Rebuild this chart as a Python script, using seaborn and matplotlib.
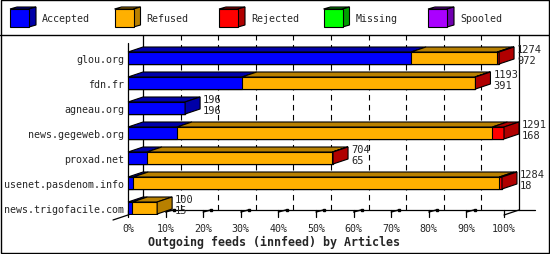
import numpy as np
import pandas as pd
import matplotlib
matplotlib.use("Agg")
import matplotlib.pyplot as plt
import seaborn as sns
from matplotlib.patches import Polygon, Rectangle

# ---------------- data ----------------
hosts = ["glou.org", "fdn.fr", "agneau.org", "news.gegeweb.org",
         "proxad.net", "usenet.pasdenom.info", "news.trigofacile.com"]
offered = [1274, 1193, 196, 1291, 704, 1284, 100]
accepted = [972, 391, 196, 168, 65, 18, 15]
refused = [296, 800, 0, 1083, 637, 1257, 85]
rejected = [6, 2, 0, 40, 2, 9, 0]
missing = [0, 0, 0, 0, 0, 0, 0]
spooled = [0, 0, 0, 0, 0, 0, 0]
series_names = ["Accepted", "Refused", "Rejected", "Missing", "Spooled"]
front_colors = ["#0000ff", "#ffb000", "#ff0000", "#00ff00", "#aa00ff"]
dark_colors = ["#0000a8", "#b88000", "#b00000", "#00a000", "#7000b0"]
xticks = list(range(0, 101, 10))
xtick_labels = [f"{p}%" for p in xticks]
title = "Outgoing feeds (innfeed) by Articles"

# ---------------- style ----------------
sns.set_style("white")
plt.rcParams["font.family"] = ["DejaVu Sans Mono"]
FS = 7.2

W, H = 550, 255
fig = plt.figure(figsize=(W / 100, H / 100), dpi=100)

# background axes in pixel coords (legend, frame)
bg = fig.add_axes([0, 0, 1, 1])
bg.set_xlim(0, W)
bg.set_ylim(H, 0)
bg.axis("off")
bg.add_patch(Rectangle((0.5, 0.5), W - 1.5, H - 1.5, fill=False, ec="black", lw=1.0))
bg.plot([0, W], [35.5, 35.5], color="black", lw=1.0)
for k, name in enumerate(series_names):
    x0 = 10 + k * 104.5
    bg.add_patch(Polygon([(x0, 10), (x0 + 19, 10), (x0 + 26, 8), (x0 + 7, 8)],
                         fc=dark_colors[k], ec="black", lw=0.8))
    bg.add_patch(Polygon([(x0 + 19, 10), (x0 + 26, 8), (x0 + 26, 26), (x0 + 19, 28)],
                         fc=dark_colors[k], ec="black", lw=0.8))
    bg.add_patch(Rectangle((x0, 10), 19, 18, fc=front_colors[k], ec="black", lw=0.8))
    bg.text(x0 + 32, 19.5, name, fontsize=FS, va="center", ha="left")

# main axes geometry (pixels)
AX_L, AX_R, AX_T, AX_B = 128, 504, 44, 216
ax = fig.add_axes([AX_L / W, (H - AX_B) / H, (AX_R - AX_L) / W, (AX_B - AX_T) / H])
ax.patch.set_visible(False)

n = len(hosts)
scale = max(offered)
segs = np.array([accepted, refused, rejected, missing, spooled], dtype=float) / scale * 100
cum = np.cumsum(segs, axis=0)

BAR_W = 0.48
for k in range(len(series_names) - 1, -1, -1):
    df = pd.DataFrame({"host": hosts, "val": cum[k]})
    sns.barplot(data=df, x="val", y="host", order=hosts, orient="h",
                color=front_colors[k], saturation=1, width=BAR_W, errorbar=None,
                edgecolor="black", linewidth=0.8, ax=ax, zorder=3)

y_front = n - 1 + 0.28
ax.set_xlim(0, 100)
ax.set_ylim(y_front, -0.6)

px_x = 100 / (AX_R - AX_L)
px_y = 1 / 25
DX = 15 * px_x
DY = 5 * px_y
y_back = y_front - DY
y_top = -0.6 - 8 * px_y

# back plane grid
for p in xticks:
    if p in (0, 100):
        ax.plot([p + DX, p + DX], [y_back, y_top], color="black", lw=0.9, zorder=1, clip_on=False)
    else:
        ax.plot([p + DX, p + DX], [y_back, y_top], color="black", lw=0.8,
                ls=(0, (5, 4)), zorder=1, clip_on=False)
# floor
ax.plot([DX, 100 + DX + 16 * px_x], [y_back, y_back], color="black", lw=0.9, zorder=1, clip_on=False)
ax.plot([0, 0], [-0.6, y_front], color="black", lw=0.9, zorder=2, clip_on=False)
ax.plot([-DX, 0], [y_front + DY, y_front], color="black", lw=0.9, zorder=2, clip_on=False)
ax.plot([100, 100 + DX], [y_front, y_back], color="black", lw=0.9, zorder=2, clip_on=False)
for p in xticks:
    ax.plot([p, p], [y_back, y_front + 2 * px_y], color="black", lw=0.9,
            zorder=2, clip_on=False)
    if 0 < p < 100:
        ax.plot([p, p + 0.5 * DX], [y_back + 2 * px_y, y_back], color="black", lw=1.0,
                zorder=2, clip_on=False)
        ax.plot([p + 0.55 * DX], [y_back], marker="s", ms=1.6, color="black",
                zorder=2, clip_on=False)

# 3D faces of bars
for i in range(n):
    top = i - BAR_W / 2
    bot = i + BAR_W / 2
    last = None
    for k in range(len(series_names)):
        if segs[k, i] <= 0:
            continue
        x0 = cum[k, i] - segs[k, i]
        x1 = cum[k, i]
        ax.add_patch(Polygon([(x0, top), (x1, top), (x1 + DX, top - DY), (x0 + DX, top - DY)],
                             fc=dark_colors[k], ec="black", lw=0.8, zorder=3, clip_on=False))
        last = k
    xe = cum[-1, i]
    ax.add_patch(Polygon([(xe, top), (xe + DX, top - DY), (xe + DX, bot - DY), (xe, bot)],
                         fc=dark_colors[last], ec="black", lw=0.8, zorder=3, clip_on=False))
    ax.text(xe + DX + 3 * px_x, i - 9 * px_y, str(offered[i]), fontsize=FS + 0.3,
            va="center", ha="left", zorder=4, clip_on=False)
    ax.text(xe + DX + 3 * px_x, i + 2.5 * px_y, str(accepted[i]), fontsize=FS + 0.3,
            va="center", ha="left", zorder=4, clip_on=False)

ax.set_xticks(xticks)
ax.set_xticklabels(xtick_labels, fontsize=FS)
ax.set_yticks(range(n))
ax.set_yticklabels(hosts, fontsize=FS)
ax.tick_params(axis="x", length=0, pad=5.5)
ax.tick_params(axis="y", length=0, pad=2.9)
ax.set_xlabel("")
ax.set_ylabel("")
for s in ax.spines.values():
    s.set_visible(False)

fig.text(274 / W, 1 - 242 / H, title, fontsize=8.4, fontweight="bold",
         ha="center", va="center")

fig.savefig("out.png", dpi=100)
